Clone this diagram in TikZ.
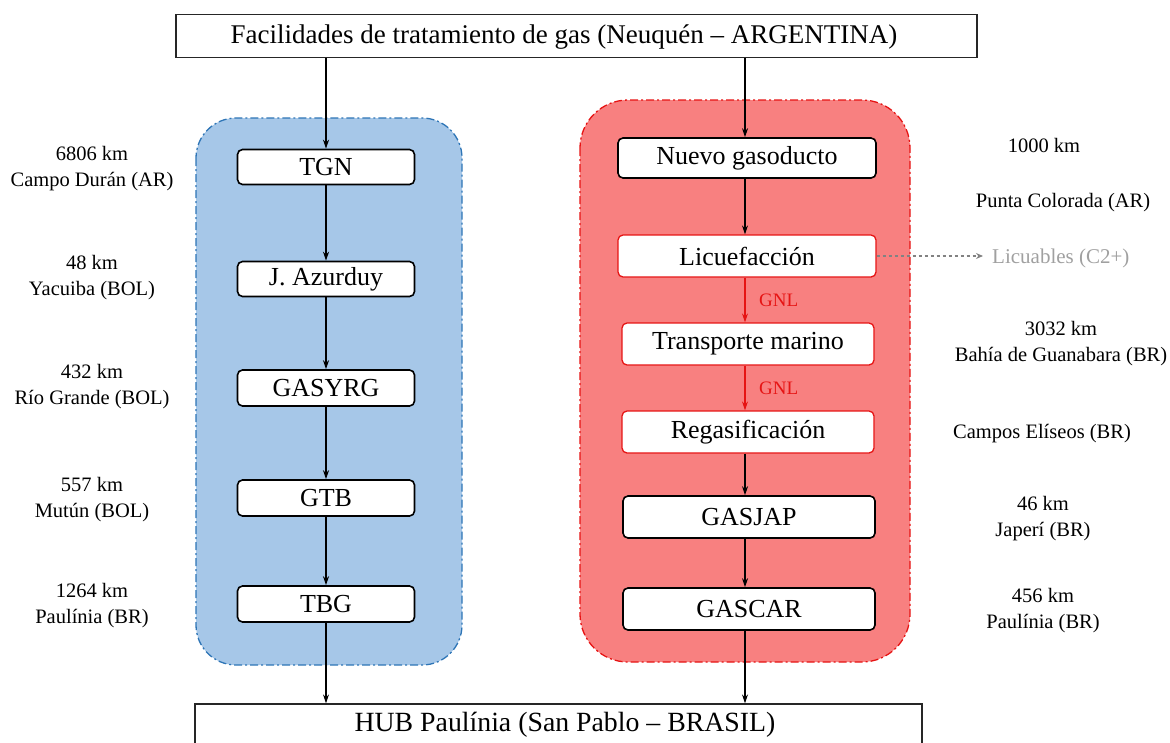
\documentclass[tikz,border=0pt]{standalone}
\usepackage{fontspec}
\setmainfont{Liberation Serif}
\usetikzlibrary{arrows.meta}
\definecolor{blueregion}{RGB}{166,199,232}
\definecolor{blueedge}{RGB}{46,117,182}
\definecolor{redregion}{RGB}{248,128,128}
\definecolor{rededge}{RGB}{230,20,20}
\definecolor{grayline}{RGB}{130,130,130}
\definecolor{graytext}{RGB}{160,160,160}
\tikzset{
  stepbox/.style={draw=black, line width=1.6pt, fill=white, rounded corners=5pt, inner sep=0pt, font=\fontsize{26}{28}\selectfont},
  redbox/.style={stepbox, draw=rededge, line width=1.3pt},
  bigbox/.style={draw=black!85, line width=1.2pt, fill=white, inner sep=0pt},
  bigtext/.style={font=\fontsize{27}{29}\selectfont, inner sep=0pt},
  flow/.style={draw=black, line width=1.1pt, -{Stealth[length=9pt,width=6pt]}},
  redflow/.style={draw=rededge, line width=1.1pt, -{Stealth[length=9pt,width=6pt]}},
  sidelabel/.style={font=\fontsize{20.5}{26}\selectfont, align=center, inner sep=0pt},
  gnl/.style={font=\fontsize{19}{20}\selectfont, text=rededge, inner sep=0pt, anchor=west},
  region/.style={line width=1.3pt, dash pattern=on 8pt off 3pt on 2pt off 3pt},
}
\begin{document}
\begin{tikzpicture}[x=1pt,y=-1pt]
\useasboundingbox (0,0) rectangle (1170,742);
% regions
\draw[region, fill=blueregion, draw=blueedge, rounded corners=40pt] (196,118) rectangle (462,665);
\draw[region, fill=redregion, draw=rededge, rounded corners=48pt] (580,100) rectangle (910,662);
% top and bottom boxes
\node[bigbox, minimum width=801pt, minimum height=43pt] (src) at (576.5,36) {};
\node[bigtext] (srct) at (564,37) {Facilidades de tratamiento de gas (Neuquén – ARGENTINA)};
\node[bigbox, minimum width=727pt, minimum height=60pt] (hub) at (558.5,734) {};
\node[bigtext, font=\fontsize{27.8}{29}\selectfont] (hubt) at (565,725) {HUB Paulínia (San Pablo – BRASIL)};
% left chain
\node[stepbox, minimum width=177pt, minimum height=35pt] (tgn) at (326,167) {TGN};
\node[stepbox, minimum width=177pt, minimum height=35pt] (azu) at (326,279) {J. Azurduy};
\node[stepbox, minimum width=177pt, minimum height=36pt] (gas) at (326,388) {GASYRG};
\node[stepbox, minimum width=177pt, minimum height=36pt] (gtb) at (326,498) {GTB};
\node[stepbox, minimum width=177pt, minimum height=36pt] (tbg) at (326,604) {TBG};
% right chain
\node[stepbox, minimum width=258pt, minimum height=40pt] (nue) at (747,158) {Nuevo gasoducto};
\node[redbox, minimum width=258pt, minimum height=42pt] (lic) at (747,256) {Licuefacción};
\node[redbox, minimum width=252pt, minimum height=42pt] (tra) at (748,344) {Transporte marino};
\node[redbox, minimum width=252pt, minimum height=42pt] (reg) at (748,432) {Regasificación};
\node[stepbox, minimum width=252pt, minimum height=42pt] (jap) at (749,517) {GASJAP};
\node[stepbox, minimum width=252pt, minimum height=42pt] (car) at (749,609) {GASCAR};
% arrows left
\draw[flow] (src.south -| tgn.north) -- (tgn.north);
\draw[flow] (tgn) -- (azu);
\draw[flow] (azu) -- (gas);
\draw[flow] (gas) -- (gtb);
\draw[flow] (gtb) -- (tbg);
\draw[flow] (tbg.south) -- (tbg.south |- hub.north);
% arrows right
\coordinate (rx) at (745,0);
\draw[flow] (src.south -| rx) -- (nue.north -| rx);
\draw[flow] (nue.south -| rx) -- (lic.north -| rx);
\draw[redflow] (lic.south -| rx) -- (tra.north -| rx);
\draw[redflow] (tra.south -| rx) -- (reg.north -| rx);
\draw[flow] (reg.south -| rx) -- (jap.north -| rx);
\draw[flow] (jap.south -| rx) -- (car.north -| rx);
\draw[flow] (car.south -| rx) -- (hub.north -| rx);
% GNL labels
\node[gnl] (g1) at (759,300) {GNL};
\node[gnl] (g2) at (759,388) {GNL};
% Licuables
\node[font=\fontsize{21}{23}\selectfont, text=graytext, inner sep=0pt, anchor=west] (licu) at (992,258) {Licuables (C2+)};
\coordinate (licend) at (983,0);
\draw[grayline, line width=1.1pt, dashed, -{Stealth[length=7pt,width=6pt]}] (lic.east) -- (lic.east -| licend);
% left labels
\node[sidelabel] (l1) at (92,169) {6806 km\\Campo Durán (AR)};
\node[sidelabel] (l2) at (92,278) {48 km\\Yacuiba (BOL)};
\node[sidelabel] (l3) at (92,387) {432 km\\Río Grande (BOL)};
\node[sidelabel] (l4) at (92,500) {557 km\\Mutún (BOL)};
\node[sidelabel] (l5) at (92,606) {1264 km\\Paulínia (BR)};
% right labels
\node[sidelabel] (r1) at (1044,145) {1000 km};
\node[sidelabel] (r2) at (1063,203) {Punta Colorada (AR)};
\node[sidelabel] (r3) at (1061,344) {3032 km\\Bahía de Guanabara (BR)};
\node[sidelabel] (r4) at (1042,434) {Campos Elíseos (BR)};
\node[sidelabel] (r5) at (1043,519) {46 km\\Japerí (BR)};
\node[sidelabel] (r6) at (1043,611) {456 km\\Paulínia (BR)};
\end{tikzpicture}
\end{document}
